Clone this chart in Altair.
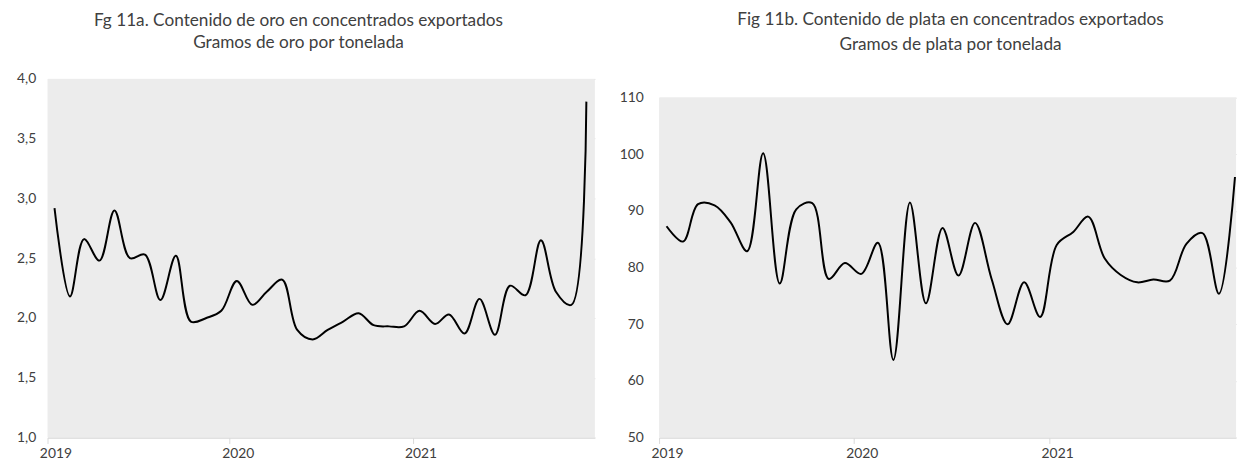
import altair as alt
import pandas as pd

# ---- data (monthly, Jan 2019 - Dec 2021) ----
years = [2019, 2020, 2021]
months = [f"{y}-{m:02d}-15T00:00:00" for y in years for m in range(1, 13)]

gold = [2.92, 2.18, 2.66, 2.48, 2.90, 2.50, 2.53, 2.15, 2.52, 1.97, 2.00, 2.06,
        2.31, 2.11, 2.22, 2.32, 1.90, 1.82, 1.90, 1.97, 2.04, 1.94, 1.93, 1.93,
        2.06, 1.95, 2.03, 1.87, 2.16, 1.86, 2.27, 2.19, 2.65, 2.22, 2.11, 3.81]

silver = [87.3, 84.6, 91.2, 91.0, 88.0, 82.9, 100.2, 77.2, 90.3, 91.4, 78.0, 80.8,
          78.9, 84.4, 63.7, 91.5, 73.7, 87.0, 78.6, 87.9, 78.0, 70.0, 77.4, 71.3,
          84.0, 86.3, 89.0, 81.6, 78.7, 77.4, 77.9, 77.7, 84.2, 86.1, 75.4, 96.0]

gold_ticks = [1.0, 1.5, 2.0, 2.5, 3.0, 3.5, 4.0]
silver_ticks = [50, 60, 70, 80, 90, 100, 110]

title_a = ["Fg 11a. Contenido de oro en concentrados exportados",
           "Gramos de oro por tonelada"]
title_b = ["Fig 11b. Contenido de plata en concentrados exportados",
           "Gramos de plata por tonelada"]

gold_df = pd.DataFrame({"fecha": months, "valor": gold})
silver_df = pd.DataFrame({"fecha": months, "valor": silver})

# plot-area backgrounds (axis ranges)
gold_bg = pd.DataFrame({"x": ["2019-01-01T00:00:00"], "x2": ["2022-01-01T00:00:00"],
                        "y": [gold_ticks[0]], "y2": [gold_ticks[-1]]})
silver_bg = pd.DataFrame({"x": ["2019-01-01T00:00:00"], "x2": ["2021-12-17T00:00:00"],
                          "y": [silver_ticks[0]], "y2": [silver_ticks[-1]]})

FONT = "Lato"
TXT = "#404040"
GRID = "#d9d9d9"
FILL = "#ececec"

year_vals = [alt.DateTime(year=y, month=1, date=1) for y in years]


def x_scale(end):
    return alt.Scale(domain=[alt.DateTime(year=2019, month=1, date=1), end])


def x_axis():
    return alt.Axis(values=year_vals, format="%Y", title=None, grid=False,
                    domainColor=GRID, tickColor=GRID, tickSize=6,
                    labelOffset=8, labelPadding=3, labelFlush=False,
                    labelOverlap=False, labelColor=TXT, labelFont=FONT,
                    labelFontSize=14)


def y_axis(ticks, expr, pad, ext):
    return alt.Axis(values=ticks, labelExpr=expr, title=None, domain=False,
                    ticks=False, labelPadding=pad, minExtent=ext,
                    gridColor=GRID, labelColor=TXT, labelFont=FONT,
                    labelFontSize=14)


def title(text, dx, lh, off):
    return alt.TitleParams(text=text, font=FONT, fontSize=17.4, fontWeight="normal",
                           color=TXT, anchor="middle", dx=dx, lineHeight=lh,
                           offset=off)


def panel(df, bg, end, ydom, ticks, expr, pad, ext, ttl, width):
    xs = x_scale(end)
    ys = alt.Scale(domain=ydom, nice=False, zero=False)
    back = alt.Chart(bg).mark_rect(color=FILL).encode(
        x=alt.X("x:T", scale=xs, axis=x_axis()),
        x2="x2:T",
        y=alt.Y("y:Q", scale=ys, axis=y_axis(ticks, expr, pad, ext)),
        y2="y2:Q",
    )
    line = alt.Chart(df).mark_line(
        interpolate="catmull-rom", color="black", strokeWidth=2
    ).encode(
        x=alt.X("fecha:T", scale=xs, axis=x_axis()),
        y=alt.Y("valor:Q", scale=ys, axis=y_axis(ticks, expr, pad, ext)),
    )
    return alt.layer(back, line, title=ttl).properties(width=width, height=363)


left = panel(gold_df, gold_bg, alt.DateTime(year=2022, month=1, date=1), [1, 4],
             gold_ticks, "replace(format(datum.value, '.1f'), '.', ',')", 12, 39,
             title(title_a, -23, 22, 21), 554)

right = panel(silver_df, silver_bg, alt.DateTime(year=2021, month=12, date=17),
              [50, 50 + 60 * 363 / 344], silver_ticks, "format(datum.value, 'd')",
              16, 40, title(title_b, 3, 25, 26), 584)

chart = alt.hconcat(left, right, spacing=23).properties(
    padding={"top": 0, "left": 0, "right": 0, "bottom": 0}
).configure_view(stroke="transparent")

chart.save("out.html", embed_options={"renderer": "svg", "actions": False})
